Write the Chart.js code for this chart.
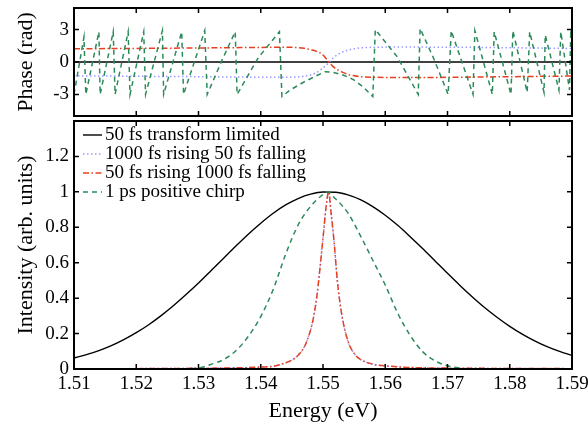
<!DOCTYPE html>
<html>
<head>
<meta charset="utf-8">
<script src="https://cdn.jsdelivr.net/npm/chart.js@4.4.0/dist/chart.umd.min.js"></script>
<style>
  html, body { margin: 0; padding: 0; background: #fff; }
  #wrap { position: relative; width: 588px; height: 423px; }
  #phaseChart { position: absolute; left: 0; top: 0; }
  #intChart { position: absolute; left: 0; top: 118px; }
</style>
</head>
<body>
<div id="wrap">
  <canvas id="phaseChart" width="588" height="120"></canvas>
  <canvas id="intChart" width="588" height="305"></canvas>
</div>
<script>
// values
const energyTicks = [1.51, 1.52, 1.53, 1.54, 1.55, 1.56, 1.57, 1.58, 1.59];
const phaseTicks = [-3, 0, 3];
const intensityTicks = [0, 0.2, 0.4, 0.6, 0.8, 1, 1.2];

const seriesLabels = [
  '50 fs transform limited',
  '1000 fs rising 50 fs falling',
  '50 fs rising 1000 fs falling',
  '1 ps positive chirp'
];

// intensity panel
const tlEnergy = [1.510, 1.512, 1.514, 1.516, 1.518, 1.520, 1.522, 1.524, 1.526, 1.528,
  1.530, 1.532, 1.534, 1.536, 1.538, 1.540, 1.542, 1.544, 1.546, 1.548,
  1.550, 1.552, 1.554, 1.556, 1.558, 1.560, 1.562, 1.564, 1.566, 1.568,
  1.570, 1.572, 1.574, 1.576, 1.578, 1.580, 1.582, 1.584, 1.586, 1.588, 1.590];
const tlIntensity = [0.062, 0.081, 0.104, 0.132, 0.166, 0.205, 0.250, 0.301, 0.358, 0.420,
  0.485, 0.554, 0.624, 0.694, 0.761, 0.823, 0.879, 0.926, 0.962, 0.987,
  0.999, 0.998, 0.983, 0.956, 0.917, 0.868, 0.811, 0.747, 0.680, 0.610,
  0.540, 0.472, 0.407, 0.346, 0.291, 0.241, 0.197, 0.159, 0.126, 0.099, 0.077];

const chirpEnergy = [1.510, 1.520, 1.526, 1.528, 1.530, 1.532, 1.534, 1.536, 1.538, 1.540,
  1.542, 1.544, 1.546, 1.548, 1.550, 1.5507, 1.552, 1.554, 1.556, 1.558,
  1.560, 1.562, 1.564, 1.566, 1.568, 1.570, 1.572, 1.574, 1.578, 1.590];
const chirpIntensity = [0, 0, 0.001, 0.002, 0.006, 0.026, 0.053, 0.103, 0.184, 0.296,
  0.449, 0.648, 0.813, 0.918, 0.985, 1.0, 0.961, 0.881, 0.753, 0.614,
  0.474, 0.315, 0.19, 0.098, 0.046, 0.018, 0.005, 0.001, 0, 0];

// both asymmetric pulses give the same spectrum
const asymEnergy = [1.510, 1.520, 1.530, 1.535, 1.538, 1.540, 1.542, 1.544, 1.545, 1.546,
  1.547, 1.548, 1.5485, 1.549, 1.5495, 1.550, 1.5505, 1.5509, 1.5513, 1.5518,
  1.5523, 1.553, 1.554, 1.555, 1.556, 1.558, 1.560, 1.563, 1.566, 1.570, 1.580, 1.590];
const asymIntensity = [0.001, 0.002, 0.004, 0.006, 0.008, 0.011, 0.015, 0.035, 0.05, 0.078,
  0.125, 0.22, 0.296, 0.407, 0.564, 0.738, 0.916, 1.0, 0.88, 0.71,
  0.50, 0.31, 0.158, 0.088, 0.055, 0.027, 0.018, 0.010, 0.007, 0.005, 0.003, 0.002];

// phase panel
const tlPhaseEnergy = [1.51, 1.59];
const tlPhase = [0, 0];

const asymPhaseEnergy = [1.510, 1.520, 1.530, 1.540, 1.544, 1.546, 1.547, 1.548, 1.549, 1.550,
  1.5505, 1.551, 1.5515, 1.552, 1.553, 1.554, 1.555, 1.556, 1.558, 1.562, 1.570, 1.580, 1.590];
const slowRisePhase = [-1.28, -1.32, -1.36, -1.41, -1.42, -1.38, -1.31, -1.2, -0.95, -0.55,
  -0.3, 0.0, 0.3, 0.55, 0.88, 1.1, 1.22, 1.3, 1.36, 1.38, 1.37, 1.32, 1.25];
const slowFallPhase = [1.22, 1.26, 1.30, 1.35, 1.37, 1.33, 1.27, 1.14, 0.98, 0.65,
  0.32, -0.05, -0.36, -0.6, -0.92, -1.15, -1.27, -1.35, -1.41, -1.44, -1.42, -1.36, -1.30];

const chirpPhaseEnergy = [1.5100, 1.5116, 1.5119, 1.5140, 1.5142, 1.5163, 1.5166, 1.5187, 1.5190, 1.5212,
  1.5215, 1.5242, 1.5244, 1.5273, 1.5276, 1.5310, 1.5314, 1.5338, 1.5359, 1.5362,
  1.5396, 1.5430, 1.5434, 1.5447, 1.5471, 1.5492, 1.5503, 1.5516, 1.5532, 1.5548,
  1.5564, 1.5580, 1.5584, 1.5619, 1.5653, 1.5656, 1.5678, 1.5701, 1.5706, 1.5741,
  1.5744, 1.5772, 1.5775, 1.5802, 1.5805, 1.5828, 1.5832, 1.5855, 1.5857, 1.5879,
  1.5882, 1.5896, 1.5898, 1.5900];
const chirpPhase = [-3.0, 2.3, -3.0, 2.8, -3.0, 2.8, -3.0, 2.8, -3.0, 2.8,
  -3.0, 2.9, -3.0, 2.8, -3.0, 2.9, -3.0, 0.2, 2.8, -3.0,
  0.4, 2.8, -3.2, -2.6, -1.8, -1.2, -0.9, -0.95, -1.2, -1.6,
  -2.28, -3.2, 3.0, 0.5, -3.0, 3.1, 0.3, -3.0, 2.9, -3.0,
  2.9, -3.0, 2.8, -3.0, 2.9, -2.8, 2.8, -2.8, 2.5, -2.6,
  2.8, -2.6, 2.6, 2.2];

const styles = [
  { borderColor: '#000000', borderWidth: 1.4, borderDash: [], order: 4 },
  { borderColor: '#9a9aff', borderWidth: 1.5, borderDash: [1.5, 2.5], order: 3 },
  { borderColor: '#e6401f', borderWidth: 1.5, borderDash: [6, 2.5, 1.5, 2.5], order: 2 },
  { borderColor: '#2b8a5a', borderWidth: 1.5, borderDash: [5, 4], order: 1 }
];

const serif = '"Liberation Serif", "Times New Roman", serif';
const tickFont = { family: serif, size: 19 };
const titleFont = { family: serif, size: 22, lineHeight: 1.1 };

function pts(xs, ys) {
  return xs.map((x, i) => ({ x: x, y: ys[i] }));
}

function makeSet(i, xs, ys, smooth) {
  return Object.assign({
    label: seriesLabels[i],
    data: pts(xs, ys),
    pointRadius: 0,
    fill: false,
    tension: 0,
    cubicInterpolationMode: smooth ? 'monotone' : 'default'
  }, styles[i]);
}

function noPadding(s) {
  s.paddingTop = 0; s.paddingBottom = 0; s.paddingLeft = 0; s.paddingRight = 0;
}

function xAxis(showLabels, height) {
  return {
    type: 'linear', min: 1.51, max: 1.59,
    afterBuildTicks: s => { s.ticks = energyTicks.map(v => ({ value: v })); },
    afterFit: s => { s.height = height; noPadding(s); },
    grid: { display: false, drawTicks: false },
    border: { display: false },
    ticks: { display: showLabels, font: tickFont, color: '#000', padding: 4,
      maxRotation: 0, autoSkip: false, callback: v => v.toFixed(2) },
    title: { display: showLabels, text: 'Energy (eV)', font: titleFont, color: '#000',
      padding: { top: 0, bottom: 0 } }
  };
}

function yAxis(min, max, tickList, title, fmt) {
  return {
    type: 'linear', min: min, max: max,
    afterBuildTicks: s => { s.ticks = tickList.map(v => ({ value: v })); },
    afterFit: s => { s.width = 74; noPadding(s); },
    grid: { display: false, drawTicks: false },
    border: { display: false },
    ticks: { font: tickFont, color: '#000', padding: 5, callback: fmt },
    title: { display: true, text: title, font: titleFont, color: '#000',
      padding: { top: 14, bottom: 0 } }
  };
}

// box round the axes with inward tick marks on all four sides
const framePlugin = {
  id: 'frame',
  afterDraw(chart) {
    const { ctx, chartArea: a } = chart;
    const x = chart.scales.x, y = chart.scales.y;
    const len = 5;
    ctx.save();
    ctx.strokeStyle = '#000';
    ctx.lineWidth = 1.5;
    ctx.beginPath();
    x.ticks.forEach(t => {
      const px = x.getPixelForValue(t.value);
      ctx.moveTo(px, a.bottom); ctx.lineTo(px, a.bottom - len);
      ctx.moveTo(px, a.top); ctx.lineTo(px, a.top + len);
    });
    y.ticks.forEach(t => {
      const py = y.getPixelForValue(t.value);
      ctx.moveTo(a.left, py); ctx.lineTo(a.left + len, py);
      ctx.moveTo(a.right, py); ctx.lineTo(a.right - len, py);
    });
    ctx.stroke();
    ctx.lineWidth = 2;
    ctx.strokeRect(a.left, a.top, a.right - a.left, a.bottom - a.top);
    ctx.restore();
  }
};

// legend sits inside the top-left corner of the intensity axes, no box
const insideLegend = {
  id: 'insideLegend',
  afterDraw(chart) {
    const { ctx, chartArea: a } = chart;
    ctx.save();
    ctx.font = '19px ' + serif;
    ctx.textBaseline = 'middle';
    chart.data.datasets.forEach((ds, i) => {
      const yy = a.top + 14 + i * 19;
      ctx.strokeStyle = ds.borderColor;
      ctx.lineWidth = ds.borderWidth;
      ctx.setLineDash(ds.borderDash);
      ctx.beginPath();
      ctx.moveTo(a.left + 9, yy);
      ctx.lineTo(a.left + 28, yy);
      ctx.stroke();
      ctx.setLineDash([]);
      ctx.fillStyle = '#000';
      ctx.fillText(ds.label, a.left + 31, yy);
    });
    ctx.restore();
  }
};

const common = {
  responsive: false,
  animation: false,
  devicePixelRatio: 1,
  plugins: { legend: { display: false }, tooltip: { enabled: false } }
};

new Chart(document.getElementById('phaseChart'), {
  type: 'line',
  data: {
    datasets: [
      makeSet(0, tlPhaseEnergy, tlPhase, false),
      makeSet(1, asymPhaseEnergy, slowRisePhase, true),
      makeSet(2, asymPhaseEnergy, slowFallPhase, true),
      makeSet(3, chirpPhaseEnergy, chirpPhase, false)
    ]
  },
  options: Object.assign({}, common, {
    layout: { padding: { left: 0, right: 16, top: 8, bottom: 0 } },
    scales: {
      x: xAxis(false, 4),
      y: yAxis(-5, 5, phaseTicks, 'Phase (rad)', v => String(v))
    }
  }),
  plugins: [framePlugin]
});

new Chart(document.getElementById('intChart'), {
  type: 'line',
  data: {
    datasets: [
      makeSet(0, tlEnergy, tlIntensity, true),
      makeSet(1, asymEnergy, asymIntensity, true),
      makeSet(2, asymEnergy, asymIntensity, true),
      makeSet(3, chirpEnergy, chirpIntensity, true)
    ]
  },
  options: Object.assign({}, common, {
    layout: { padding: { left: 0, right: 16, top: 3, bottom: 0 } },
    scales: {
      x: xAxis(true, 54),
      y: yAxis(0, 1.4, intensityTicks, 'Intensity (arb. units)', v => String(+v.toFixed(1)))
    }
  }),
  plugins: [framePlugin, insideLegend]
});
</script>
</body>
</html>
